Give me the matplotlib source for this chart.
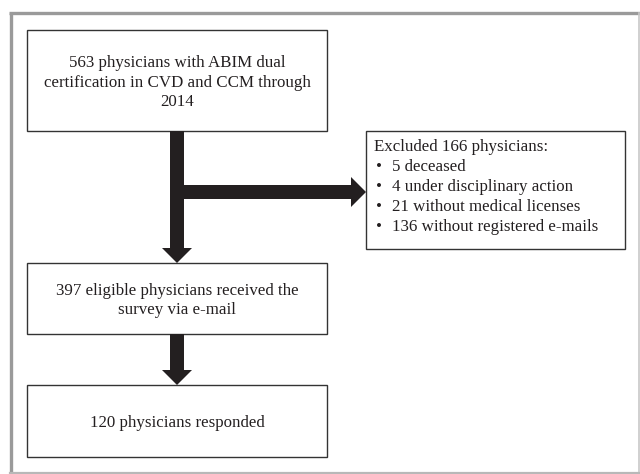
import matplotlib.pyplot as plt
from matplotlib.patches import Rectangle, FancyArrow

# flowchart content
total_n = 563
excluded = [("deceased", 5), ("under disciplinary action", 4),
            ("without medical licenses", 21), ("without registered e-mails", 136)]
eligible_n = 397
responded_n = 120

box_texts = [
    f"{total_n} physicians with ABIM dual\ncertification in CVD and CCM through\n2014",
    f"{eligible_n} eligible physicians received the\nsurvey via e-mail",
    f"{responded_n} physicians responded",
]
excl_title = f"Excluded {sum(n for _, n in excluded)} physicians:"

plt.rcParams['font.family'] = ['Liberation Serif', 'DejaVu Serif']

fig = plt.figure(figsize=(6.4, 4.74), dpi=100)
ax = fig.add_axes([0, 0, 1, 1])
ax.set_xlim(0, 640)
ax.set_ylim(474, 0)
ax.axis("off")

ink = "#231f20"
fs = 12.2

# outer frame: heavier grey on top/left, lighter on right/bottom
ax.plot([10.5, 10.5], [472, 12.5], color="#9a9a9a", lw=2.4, solid_capstyle="butt")
ax.plot([9.3, 640], [12.5, 12.5], color="#9a9a9a", lw=2.4, solid_capstyle="butt")
ax.plot([639, 639], [12.5, 473], color="#c8c8c8", lw=1.2)
ax.plot([10, 639], [472.5, 472.5], color="#b8b8b8", lw=1.6)

# main boxes (x0, y0, x1, y1)
boxes = [(27, 30, 327, 131), (27, 263, 327, 334), (27, 385, 327, 457)]
for (x0, y0, x1, y1), txt in zip(boxes, box_texts):
    ax.add_patch(Rectangle((x0, y0), x1 - x0, y1 - y0, fill=False,
                           ec="#333333", lw=1.0))
    ax.text((x0 + x1) / 2, (y0 + y1) / 2 + 2, txt, ha="center", va="center",
            fontsize=fs, color=ink, linespacing=1.33)

# exclusion box
ex0, ey0, ex1, ey1 = 366, 131, 625, 249
ax.add_patch(Rectangle((ex0, ey0), ex1 - ex0, ey1 - ey0, fill=False,
                       ec="#333333", lw=1.0))
ax.text(374, 147, excl_title, ha="left", va="center", fontsize=fs, color=ink)
for i, (reason, n) in enumerate(excluded):
    y = 167 + 20 * i
    ax.text(376, y, "•", ha="left", va="center", fontsize=fs, color=ink)
    ax.text(392, y, f"{n} {reason}", ha="left", va="center", fontsize=fs, color=ink)

# thick arrows
cx = 177
arrow_kw = dict(width=14, head_width=30, head_length=15,
                length_includes_head=True, color=ink, lw=0)
ax.add_patch(FancyArrow(cx, 131, 0, 263 - 131, **arrow_kw))
ax.add_patch(FancyArrow(cx, 334, 0, 385 - 334, **arrow_kw))
ax.add_patch(FancyArrow(cx - 7, 192, ex0 - (cx - 7), 0, **arrow_kw))

fig.savefig("out.png", dpi=100)
